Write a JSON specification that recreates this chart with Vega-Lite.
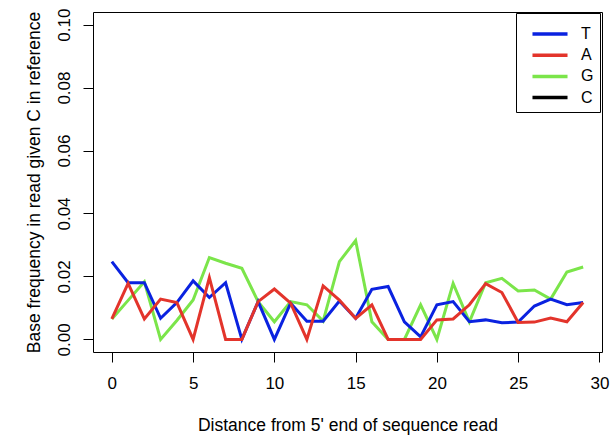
{
  "$schema": "https://vega.github.io/schema/vega-lite/v6.json",
  "width": 509,
  "height": 340,
  "autosize": "none",
  "padding": {"left": 93, "top": 12, "right": 11, "bottom": 88},
  "background": "white",
  "config": {
    "font": "Liberation Sans",
    "view": {"stroke": "black", "strokeWidth": 1},
    "axis": {"grid": false, "domain": false, "tickColor": "black", "tickSize": 10, "labelColor": "black", "titleColor": "black", "labelFontSize": 17, "titleFontSize": 17.5, "titleFontWeight": "normal", "labelFont": "Liberation Sans", "titleFont": "Liberation Sans"}
  },
  "data": {"values": [
    {"pos":0,"base":"G","freq":0.0065},{"pos":1,"base":"G","freq":0.0124},{"pos":2,"base":"G","freq":0.0183},{"pos":3,"base":"G","freq":0},{"pos":4,"base":"G","freq":0.006},{"pos":5,"base":"G","freq":0.0125},{"pos":6,"base":"G","freq":0.026},{"pos":7,"base":"G","freq":0.0242},{"pos":8,"base":"G","freq":0.0226},{"pos":9,"base":"G","freq":0.012},{"pos":10,"base":"G","freq":0.0056},{"pos":11,"base":"G","freq":0.012},{"pos":12,"base":"G","freq":0.011},{"pos":13,"base":"G","freq":0.0058},{"pos":14,"base":"G","freq":0.0247},{"pos":15,"base":"G","freq":0.0314},{"pos":16,"base":"G","freq":0.0056},{"pos":17,"base":"G","freq":0},{"pos":18,"base":"G","freq":0},{"pos":19,"base":"G","freq":0.011},{"pos":20,"base":"G","freq":0},{"pos":21,"base":"G","freq":0.0178},{"pos":22,"base":"G","freq":0.0056},{"pos":23,"base":"G","freq":0.018},{"pos":24,"base":"G","freq":0.0194},{"pos":25,"base":"G","freq":0.0154},{"pos":26,"base":"G","freq":0.0157},{"pos":27,"base":"G","freq":0.0128},{"pos":28,"base":"G","freq":0.0214},{"pos":29,"base":"G","freq":0.023},
    {"pos":0,"base":"T","freq":0.0247},{"pos":1,"base":"T","freq":0.018},{"pos":2,"base":"T","freq":0.018},{"pos":3,"base":"T","freq":0.0067},{"pos":4,"base":"T","freq":0.0117},{"pos":5,"base":"T","freq":0.0186},{"pos":6,"base":"T","freq":0.0133},{"pos":7,"base":"T","freq":0.018},{"pos":8,"base":"T","freq":0},{"pos":9,"base":"T","freq":0.012},{"pos":10,"base":"T","freq":0},{"pos":11,"base":"T","freq":0.0115},{"pos":12,"base":"T","freq":0.0058},{"pos":13,"base":"T","freq":0.0058},{"pos":14,"base":"T","freq":0.0122},{"pos":15,"base":"T","freq":0.0067},{"pos":16,"base":"T","freq":0.0159},{"pos":17,"base":"T","freq":0.0168},{"pos":18,"base":"T","freq":0.0056},{"pos":19,"base":"T","freq":0.0008},{"pos":20,"base":"T","freq":0.011},{"pos":21,"base":"T","freq":0.012},{"pos":22,"base":"T","freq":0.0056},{"pos":23,"base":"T","freq":0.0062},{"pos":24,"base":"T","freq":0.0053},{"pos":25,"base":"T","freq":0.0055},{"pos":26,"base":"T","freq":0.0106},{"pos":27,"base":"T","freq":0.0128},{"pos":28,"base":"T","freq":0.011},{"pos":29,"base":"T","freq":0.0117},
    {"pos":0,"base":"A","freq":0.0065},{"pos":1,"base":"A","freq":0.0178},{"pos":2,"base":"A","freq":0.0065},{"pos":3,"base":"A","freq":0.0128},{"pos":4,"base":"A","freq":0.0117},{"pos":5,"base":"A","freq":0},{"pos":6,"base":"A","freq":0.0196},{"pos":7,"base":"A","freq":0},{"pos":8,"base":"A","freq":0},{"pos":9,"base":"A","freq":0.012},{"pos":10,"base":"A","freq":0.016},{"pos":11,"base":"A","freq":0.0115},{"pos":12,"base":"A","freq":0},{"pos":13,"base":"A","freq":0.017},{"pos":14,"base":"A","freq":0.0125},{"pos":15,"base":"A","freq":0.0067},{"pos":16,"base":"A","freq":0.011},{"pos":17,"base":"A","freq":0},{"pos":18,"base":"A","freq":0},{"pos":19,"base":"A","freq":0},{"pos":20,"base":"A","freq":0.0062},{"pos":21,"base":"A","freq":0.0065},{"pos":22,"base":"A","freq":0.011},{"pos":23,"base":"A","freq":0.0177},{"pos":24,"base":"A","freq":0.0149},{"pos":25,"base":"A","freq":0.0054},{"pos":26,"base":"A","freq":0.0055},{"pos":27,"base":"A","freq":0.0068},{"pos":28,"base":"A","freq":0.0056},{"pos":29,"base":"A","freq":0.0117}
  ]},
  "mark": {"type": "line", "strokeWidth": 3, "clip": true},
  "encoding": {
    "x": {
      "field": "pos", "type": "quantitative",
      "scale": {"domain": [-1.16, 30.16], "nice": false, "zero": false},
      "axis": {"values": [0, 5, 10, 15, 20, 25, 30], "title": "Distance from 5' end of sequence read", "labelPadding": 13, "titlePadding": 25, "labelFlush": false, "labelOverlap": false}
    },
    "y": {
      "field": "freq", "type": "quantitative",
      "scale": {"domain": [-0.004, 0.104], "nice": false, "zero": false},
      "axis": {"values": [0, 0.02, 0.04, 0.06, 0.08, 0.1], "format": ".2f", "labelAngle": -90, "labelAlign": "center", "labelBaseline": "bottom", "labelPadding": 10, "title": "Base frequency in read given C in reference", "titlePadding": 12, "labelFlush": false, "labelOverlap": false}
    },
    "color": {
      "field": "base", "type": "nominal",
      "scale": {"domain": ["T", "A", "G", "C"], "range": ["#0A22E0", "#E3342B", "#7BE54A", "#000000"]},
      "legend": {
        "title": " ", "titleFontSize": 5, "titlePadding": 0, "orient": "none", "legendX": 423, "legendY": 1,
        "padding": 6, "strokeColor": "black", "fillColor": "white", "cornerRadius": 0,
        "symbolType": "M-2.19,0L2.19,0", "symbolSize": 256, "symbolStrokeWidth": 3.5, "symbolOffset": 18,
        "rowPadding": 3.2, "labelOffset": 21, "labelFontSize": 16, "labelColor": "black", "labelFont": "Liberation Sans"
      }
    }
  }
}
